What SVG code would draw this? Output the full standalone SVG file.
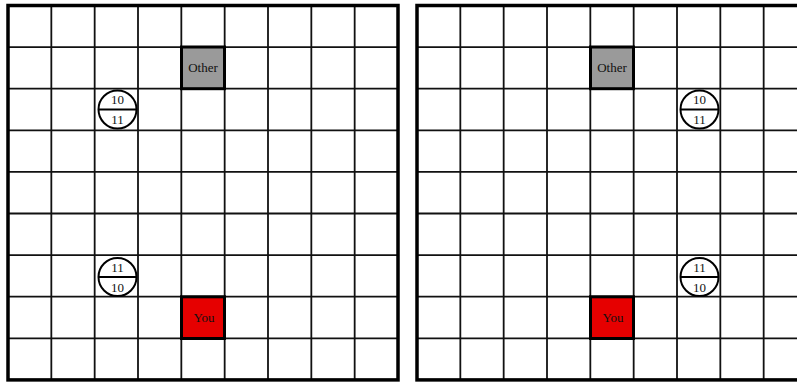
<svg xmlns="http://www.w3.org/2000/svg" width="797" height="383" viewBox="0 0 797 383">
<style>
.border{fill:none;stroke:#000;stroke-width:3.5}
.sq{stroke:#000;stroke-width:3}
.other{fill:#9a9a9a}
.you{fill:#e60000}
.t{font-family:"Liberation Serif","Times New Roman",serif;font-size:13px;fill:#111;text-anchor:middle}
.c{fill:#fff;stroke:#000;stroke-width:2}
</style>
<defs>
<g id="gridlines">
<g stroke="#111" stroke-width="1.8">
<line x1="43.33" y1="0" x2="43.33" y2="374.4"/>
<line x1="86.67" y1="0" x2="86.67" y2="374.4"/>
<line x1="130" y1="0" x2="130" y2="374.4"/>
<line x1="173.33" y1="0" x2="173.33" y2="374.4"/>
<line x1="216.67" y1="0" x2="216.67" y2="374.4"/>
<line x1="260" y1="0" x2="260" y2="374.4"/>
<line x1="303.33" y1="0" x2="303.33" y2="374.4"/>
<line x1="346.67" y1="0" x2="346.67" y2="374.4"/>
<line x1="0" y1="41.6" x2="390" y2="41.6"/>
<line x1="0" y1="83.2" x2="390" y2="83.2"/>
<line x1="0" y1="124.8" x2="390" y2="124.8"/>
<line x1="0" y1="166.4" x2="390" y2="166.4"/>
<line x1="0" y1="208" x2="390" y2="208"/>
<line x1="0" y1="249.6" x2="390" y2="249.6"/>
<line x1="0" y1="291.2" x2="390" y2="291.2"/>
<line x1="0" y1="332.8" x2="390" y2="332.8"/>
</g>
<rect x="0" y="0" width="390" height="374.4" fill="none" stroke="#000" stroke-width="3.5"/>
</g>
</defs>
<rect width="797" height="383" fill="#fff"/>
<g id="grid-left" transform="translate(8,5.5)"><use href="#gridlines"/></g>
<g id="grid-right" transform="translate(417,5.5)"><use href="#gridlines"/></g>

<g id="left-other"><rect class="sq other" x="181.5" y="47" width="43" height="41.7"/><text class="t" x="203" y="72">Other</text></g>
<g id="left-you"><rect class="sq you" x="181.5" y="296.8" width="43" height="41.7"/><text class="t" x="204" y="322">You</text></g>
<g id="left-c1"><circle class="c" cx="117.5" cy="109.5" r="19"/><line x1="98.5" y1="109.5" x2="136.5" y2="109.5" stroke="#000" stroke-width="2"/><text class="t" x="117.5" y="104">10</text><text class="t" x="117.5" y="124">11</text></g>
<g id="left-c2"><circle class="c" cx="117.5" cy="277" r="19"/><line x1="98.5" y1="277" x2="136.5" y2="277" stroke="#000" stroke-width="2"/><text class="t" x="117.5" y="271.5">11</text><text class="t" x="117.5" y="291.5">10</text></g>

<g id="right-other"><rect class="sq other" x="590.5" y="47" width="43" height="41.7"/><text class="t" x="612" y="72">Other</text></g>
<g id="right-you"><rect class="sq you" x="590.5" y="296.8" width="43" height="41.7"/><text class="t" x="613" y="322">You</text></g>
<g id="right-c1"><circle class="c" cx="699.5" cy="109.5" r="19"/><line x1="680.5" y1="109.5" x2="718.5" y2="109.5" stroke="#000" stroke-width="2"/><text class="t" x="699.5" y="104">10</text><text class="t" x="699.5" y="124">11</text></g>
<g id="right-c2"><circle class="c" cx="699.5" cy="277" r="19"/><line x1="680.5" y1="277" x2="718.5" y2="277" stroke="#000" stroke-width="2"/><text class="t" x="699.5" y="271.5">11</text><text class="t" x="699.5" y="291.5">10</text></g>
</svg>
